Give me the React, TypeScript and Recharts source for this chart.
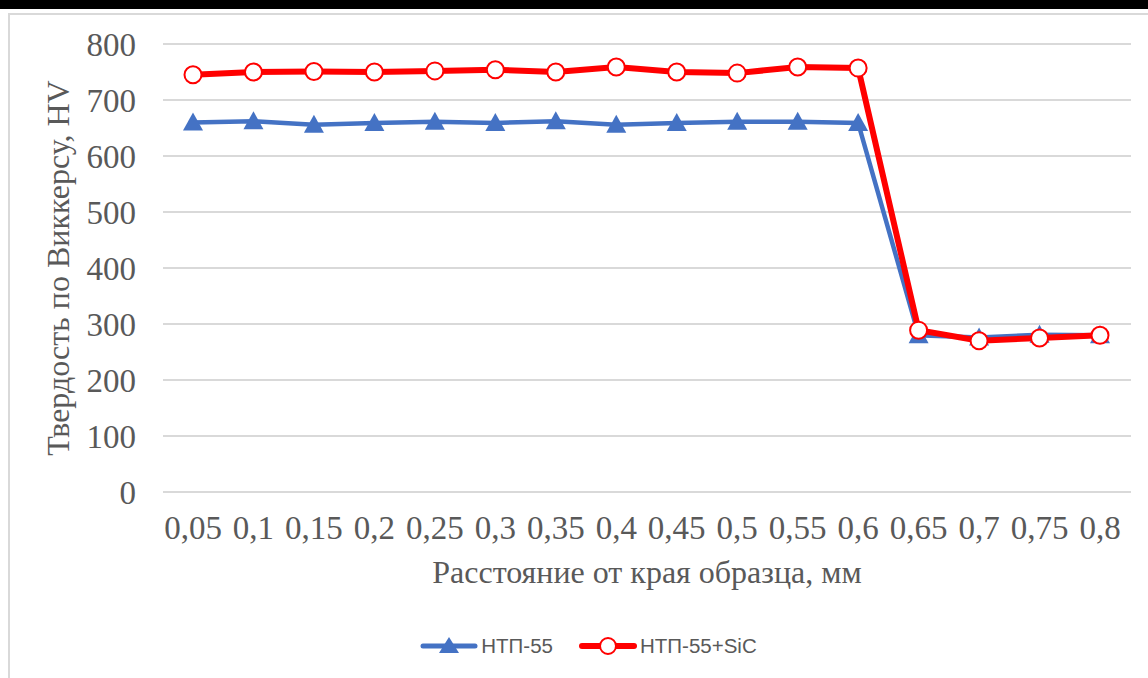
import React from 'react';
import { LineChart, Line, XAxis, YAxis, CartesianGrid, Legend, Label } from 'recharts';

const categories = ['0,05', '0,1', '0,15', '0,2', '0,25', '0,3', '0,35', '0,4', '0,45', '0,5', '0,55', '0,6', '0,65', '0,7', '0,75', '0,8'];
const ntp55 = [660, 662, 656, 659, 661, 659, 662, 656, 659, 661, 661, 659, 280, 276, 281, 280];
const ntp55SiC = [745, 750, 751, 750, 752, 754, 750, 759, 750, 748, 759, 757, 289, 270, 275, 280];
const yTicks = [0, 100, 200, 300, 400, 500, 600, 700, 800];

const data = categories.map((c, i) => ({ x: c, a: ntp55[i], b: ntp55SiC[i] }));

const BLUE = '#4472C4';
const RED = '#FF0000';
const TEXT = '#595959';
const SERIF = '"Liberation Serif", "Times New Roman", serif';

const Triangle = (props: any) => {
  const { cx, cy, index } = props;
  if (cx == null || cy == null) return <g key={`t${index}`} />;
  return (
    <polygon
      key={`t${index}`}
      points={`${cx},${cy - 10} ${cx - 10},${cy + 8} ${cx + 10},${cy + 8}`}
      fill={BLUE}
    />
  );
};

const Circle = (props: any) => {
  const { cx, cy, index } = props;
  if (cx == null || cy == null) return <g key={`c${index}`} />;
  return <circle key={`c${index}`} cx={cx} cy={cy} r={8.5} fill="#fff" stroke={RED} strokeWidth={2} />;
};

const renderLegend = (props: any) => {
  const { payload } = props;
  return (
    <div style={{ display: 'flex', justifyContent: 'center', alignItems: 'center', height: 60, paddingLeft: 46, fontFamily: '"Liberation Sans", Arial, sans-serif', fontSize: 20.5, color: TEXT }}>
      {(payload || []).map((p: any, i: number) => (
        <div key={i} style={{ display: 'flex', alignItems: 'center', marginRight: i === 0 ? 26 : 0 }}>
          <svg width={58} height={24} style={{ marginRight: 3 }}>
            {p.dataKey === 'a' ? (
              <>
                <line x1={3} y1={12} x2={55} y2={12} stroke={BLUE} strokeWidth={5} strokeLinecap="round" />
                <polygon points="29,3 19,19 39,19" fill={BLUE} />
              </>
            ) : (
              <>
                <line x1={3} y1={12} x2={55} y2={12} stroke={RED} strokeWidth={6} strokeLinecap="round" />
                <circle cx={29} cy={12} r={8} fill="#fff" stroke={RED} strokeWidth={2} />
              </>
            )}
          </svg>
          <span>{p.value}</span>
        </div>
      ))}
    </div>
  );
};

export default function App() {
  return (
    <div style={{ position: 'absolute', left: 0, top: 0, width: 1148, height: 678, background: '#fff', overflow: 'hidden' }}>
      <div style={{ position: 'absolute', left: 0, top: 0, width: 1148, height: 9, background: '#000' }} />
      <div style={{ position: 'absolute', left: 8, top: 13, width: 1200, height: 720, borderLeft: '2px solid #d9d9d9', borderTop: '2px solid #d9d9d9' }} />
      <div style={{ position: 'absolute', left: 0, top: 0 }}>
        <LineChart width={1148} height={678} data={data} margin={{ top: 44, right: 17, bottom: 2, left: 0 }}>
          <CartesianGrid vertical={false} stroke="#d9d9d9" strokeWidth={2} />
          <XAxis
            dataKey="x"
            axisLine={false}
            tickLine={false}
            tickSize={0}
            tickMargin={24}
            interval={0}
            height={124}
            padding={{ left: 30, right: 31 }}
            tick={{ fill: TEXT, fontSize: 33, fontFamily: SERIF }}
          >
            <Label
              value="Расстояние от края образца, мм"
              position="insideBottom"
              offset={33}
              style={{ fill: TEXT, fontSize: 32, fontFamily: SERIF }}
            />
          </XAxis>
          <YAxis
            domain={[0, 800]}
            ticks={yTicks}
            axisLine={false}
            tickLine={false}
            tickSize={0}
            tickMargin={27}
            width={163}
            tick={{ fill: TEXT, fontSize: 33, fontFamily: SERIF }}
          >
            <Label
              value="Твердость по Виккерсу, HV"
              angle={-90}
              position="insideLeft"
              offset={58}
              style={{ textAnchor: 'middle', fill: TEXT, fontSize: 32, fontFamily: SERIF }}
            />
          </YAxis>
          <Legend verticalAlign="bottom" height={60} content={renderLegend} />
          <Line
            dataKey="a"
            name="НТП-55"
            stroke={BLUE}
            strokeWidth={4.5}
            dot={Triangle}
            activeDot={false}
            isAnimationActive={false}
          />
          <Line
            dataKey="b"
            name="НТП-55+SiC"
            stroke={RED}
            strokeWidth={6}
            dot={Circle}
            activeDot={false}
            isAnimationActive={false}
          />
        </LineChart>
      </div>
    </div>
  );
}
